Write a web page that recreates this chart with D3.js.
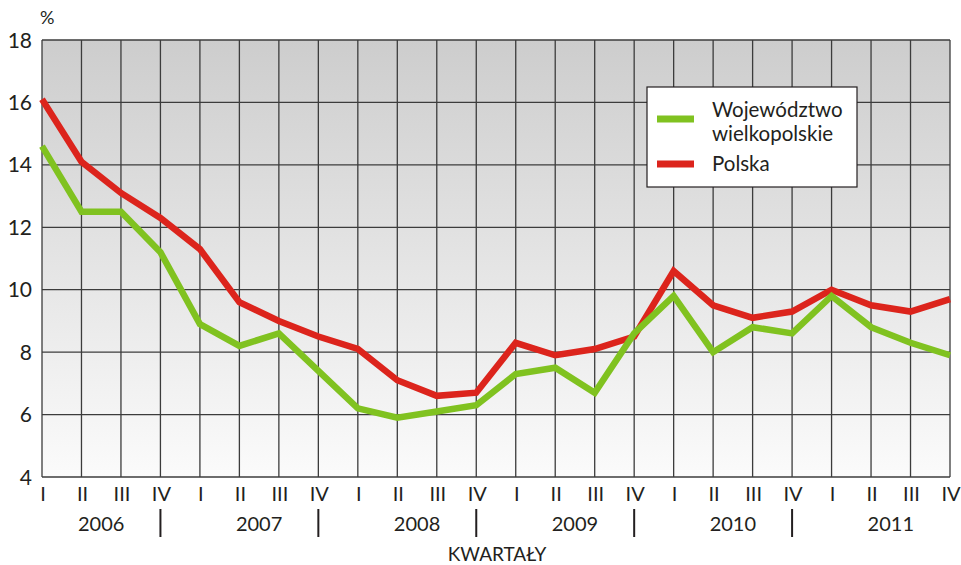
<!DOCTYPE html>
<html>
<head>
<meta charset="utf-8">
<script src="https://cdn.jsdelivr.net/npm/d3@7"></script>
<style>
  body { margin: 0; background: #fff; }
  text { font-family: Lato, "Open Sans", sans-serif; fill: #231f20; }
</style>
</head>
<body>
<svg width="961" height="565"></svg>
<script>
const years = ['2006', '2007', '2008', '2009', '2010', '2011'];
const quarters = ['I', 'II', 'III', 'IV'];
const wielkopolskie = [14.6, 12.5, 12.5, 11.2, 8.9, 8.2, 8.6, 7.4, 6.2, 5.9, 6.1, 6.3,
                       7.3, 7.5, 6.7, 8.6, 9.8, 8.0, 8.8, 8.6, 9.8, 8.8, 8.3, 7.9];
const polska = [16.1, 14.1, 13.1, 12.3, 11.3, 9.6, 9.0, 8.5, 8.1, 7.1, 6.6, 6.7,
                8.3, 7.9, 8.1, 8.5, 10.6, 9.5, 9.1, 9.3, 10.0, 9.5, 9.3, 9.7];
const yTicks = [4, 6, 8, 10, 12, 14, 16, 18];

const svg = d3.select('svg');
const plotL = 42, plotR = 950, plotT = 40, plotB = 477;

const idx = d3.range(years.length * quarters.length);
const x = d3.scaleLinear().domain([0, idx.length - 1]).range([plotL, plotR]);
const y = d3.scaleLinear().domain([4, 18]).range([plotB, plotT]);

// background gradient
const grad = svg.append('defs').append('linearGradient')
    .attr('id', 'bg').attr('x1', 0).attr('y1', 0).attr('x2', 0).attr('y2', 1);
grad.append('stop').attr('offset', '0%').attr('stop-color', '#cdcdcd');
grad.append('stop').attr('offset', '100%').attr('stop-color', '#fbfbfb');

svg.append('rect')
    .attr('x', plotL).attr('y', plotT)
    .attr('width', plotR - plotL).attr('height', plotB - plotT)
    .attr('fill', 'url(#bg)');

// grid
svg.append('g').selectAll('line').data(yTicks).join('line')
    .attr('x1', plotL).attr('x2', plotR)
    .attr('y1', d => y(d)).attr('y2', d => y(d))
    .attr('stroke', '#3c3c3c').attr('stroke-width', 1.3);
svg.append('g').selectAll('line').data(idx).join('line')
    .attr('x1', d => x(d)).attr('x2', d => x(d))
    .attr('y1', plotT).attr('y2', plotB)
    .attr('stroke', '#3c3c3c').attr('stroke-width', 1.3);

// y labels
svg.append('g').selectAll('text').data(yTicks).join('text')
    .attr('x', 32).attr('y', d => y(d))
    .attr('dy', '0.36em')
    .attr('text-anchor', 'end')
    .attr('font-size', 21)
    .text(d => d);
svg.append('text').attr('x', 40).attr('y', 24).attr('font-size', 18).text('%');

// x labels
svg.append('g').selectAll('text').data(idx).join('text')
    .attr('x', d => x(d) + 1).attr('y', 501)
    .attr('text-anchor', 'middle')
    .attr('font-size', 20)
    .text(d => quarters[d % 4]);

svg.append('g').selectAll('text').data(years).join('text')
    .attr('x', (d, i) => (x(i * 4) + x(i * 4 + 3)) / 2)
    .attr('y', 531)
    .attr('text-anchor', 'middle')
    .attr('font-size', 20)
    .text(d => d);

svg.append('g').selectAll('line').data(years.slice(0, -1)).join('line')
    .attr('x1', (d, i) => x(i * 4 + 3)).attr('x2', (d, i) => x(i * 4 + 3))
    .attr('y1', 509).attr('y2', 537)
    .attr('stroke', '#231f20').attr('stroke-width', 2);

svg.append('text').attr('x', 497).attr('y', 561)
    .attr('text-anchor', 'middle').attr('font-size', 19).text('KWARTAŁY');

// lines
const line = d3.line().x((d, i) => x(i)).y(d => y(d));
svg.append('path').datum(polska)
    .attr('d', line).attr('fill', 'none')
    .attr('stroke', '#dc241c').attr('stroke-width', 6.5).attr('stroke-linejoin', 'miter');
svg.append('path').datum(wielkopolskie)
    .attr('d', line).attr('fill', 'none')
    .attr('stroke', '#80c220').attr('stroke-width', 6.5).attr('stroke-linejoin', 'miter');

// legend
const lg = svg.append('g');
lg.append('rect').attr('x', 647).attr('y', 87).attr('width', 210).attr('height', 100)
    .attr('fill', '#fff').attr('stroke', '#231f20').attr('stroke-width', 1.2);
lg.append('line').attr('x1', 657).attr('x2', 694).attr('y1', 119).attr('y2', 119)
    .attr('stroke', '#80c220').attr('stroke-width', 7);
lg.append('line').attr('x1', 657).attr('x2', 694).attr('y1', 164).attr('y2', 164)
    .attr('stroke', '#dc241c').attr('stroke-width', 7);
lg.append('text').attr('x', 712).attr('y', 117).attr('font-size', 20.5).text('Województwo');
lg.append('text').attr('x', 712).attr('y', 141).attr('font-size', 20.5).text('wielkopolskie');
lg.append('text').attr('x', 712).attr('y', 171).attr('font-size', 20.5).text('Polska');
</script>
</body>
</html>
